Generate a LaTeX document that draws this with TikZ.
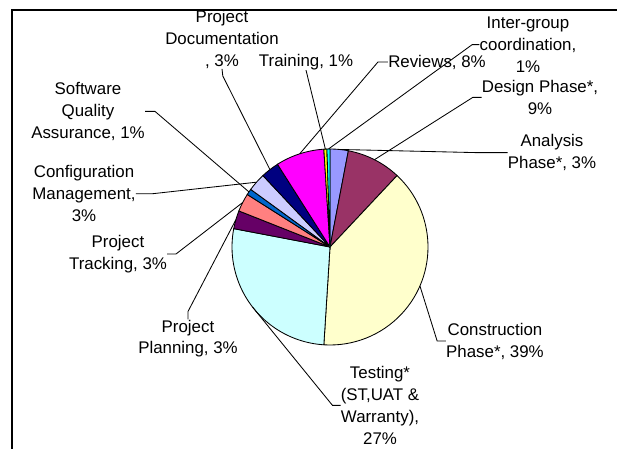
\documentclass[tikz,border=0pt]{standalone}
\usepackage{fontspec}
\setmainfont{Liberation Sans}
\usepackage{tikz}
\definecolor{anacol}{HTML}{9999FF}
\definecolor{descol}{HTML}{993366}
\definecolor{concol}{HTML}{FFFFCC}
\definecolor{testcol}{HTML}{CCFFFF}
\definecolor{plancol}{HTML}{660066}
\definecolor{trackcol}{HTML}{FF8080}
\definecolor{sqacol}{HTML}{0066CC}
\definecolor{confcol}{HTML}{CCCCFF}
\definecolor{doccol}{HTML}{000080}
\definecolor{revcol}{HTML}{FF00FF}
\definecolor{traincol}{HTML}{FFFF00}
\definecolor{intercol}{HTML}{00FFFF}
\begin{document}
\begin{tikzpicture}[
    lbl/.style={align=center,inner sep=0pt,font=\fontsize{12}{15.6}\selectfont},
    leader/.style={line width=0.6pt},
    slice/.style={draw=black,line width=0.6pt}]
        \useasboundingbox (-8.25,-5.025) rectangle (7.175,6.175);
        \draw [line width=1.4pt] (-7.95,-5.2) -- (-7.95,5.925) -- (7.3,5.925);
        % slices, clockwise from the top
        \foreach \a/\b/\c in {90/79.2/anacol, 79.2/46.8/descol, 46.8/-93.6/concol,
            -93.6/-190.8/testcol, -190.8/-201.6/plancol, -201.6/-212.4/trackcol,
            -212.4/-216/sqacol, -216/-226.8/confcol, -226.8/-237.6/doccol,
            -237.6/-266.4/revcol, -266.4/-268.2/traincol, -268.2/-270/intercol}
            \filldraw [slice,fill=\c] (0,0) -- (\a:2.45) arc (\a:\b:2.45) -- cycle;
        \coordinate (p-ana) at (84.6:2.45);
        \coordinate (p-des) at (63:2.45);
        \coordinate (p-con) at (-23.4:2.45);
        \coordinate (p-test) at (217.8:2.45);
        \coordinate (p-plan) at (163.8:2.45);
        \coordinate (p-track) at (153:2.45);
        \coordinate (p-sqa) at (145.8:2.45);
        \coordinate (p-conf) at (138.6:2.45);
        \coordinate (p-doc) at (127.8:2.45);
        \coordinate (p-rev) at (108:2.45);
        \coordinate (p-train) at (92.7:2.45);
        \coordinate (p-inter) at (90.9:2.45);
        % labels
        \node [lbl] (doc) at (-2.7,5.19) {Project\\Documentation\\, 3\%};
        \node [lbl] (train) at (-0.6,4.625) {Training, 1\%};
        \node [lbl] (rev) at (2.675,4.625) {Reviews, 8\%};
        \node [lbl] (inter) at (4.95,5.06) {Inter-group\\coordination,\\1\%};
        \node [lbl] (des) at (5.25,3.74) {Design Phase*,\\9\%};
        \node [lbl] (ana) at (5.55,2.36) {Analysis\\Phase*, 3\%};
        \node [lbl] (sqa) at (-6.05,3.39) {Software\\Quality\\Assurance, 1\%};
        \node [lbl] (conf) at (-6.15,1.33) {Configuration\\Management,\\3\%};
        \node [lbl] (track) at (-5.3,-0.175) {Project\\Tracking, 3\%};
        \node [lbl] (plan) at (-3.55,-2.29) {Project\\Planning, 3\%};
        \node [lbl] (test) at (1.25,-3.96) {Testing*\\(ST,UAT \&\\Warranty),\\27\%};
        \node [lbl] (con) at (4.125,-2.35) {Construction\\Phase*, 39\%};
        % leader lines
        \draw [leader] (doc.south) -- ++(0.02,-0.18) -- (p-doc);
        \draw [leader] (train.south) -- (p-train);
        \draw [leader] (rev.west) -- ++(-0.25,0) -- (p-rev);
        \draw [leader] (inter.west) -- ++(-0.18,0) -- (p-inter);
        \draw [leader] (des.west) -- ++(-0.22,0) -- (p-des);
        \draw [leader] (ana.west) -- ++(-0.8,0) -- (p-ana);
        \draw [leader] (sqa.east) -- ++(0.25,0) -- (p-sqa);
        \draw [leader] (conf.east) -- ++(0.4,0) -- (p-conf);
        \draw [leader] (track.east) -- ++(0.22,0) -- (p-track);
        \draw [leader] (plan.north) -- ++(0,0.2) -- (p-plan);
        \draw [leader] (test.west) -- ++(-0.2,0) -- (p-test);
        \draw [leader] (con.west) -- ++(-0.22,0) -- (p-con);
      \end{tikzpicture}
\end{document}
